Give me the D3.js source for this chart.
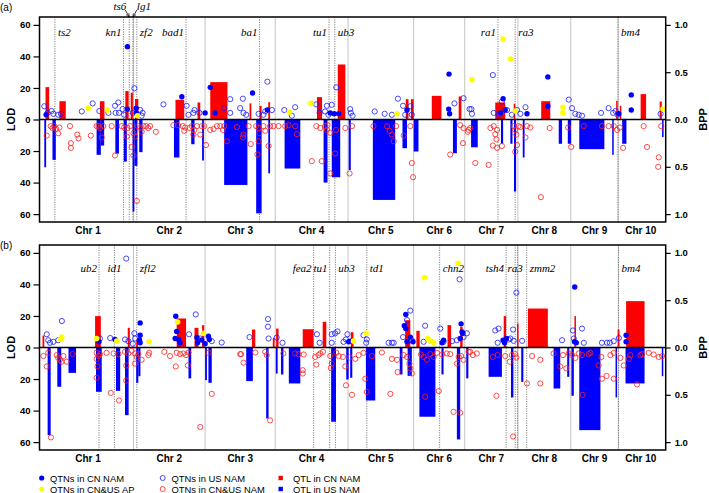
<!DOCTYPE html>
<html>
  <head>
    <meta charset="utf-8">
    <script src="https://d3js.org/d3.v7.min.js"></script>
    <style>
      body { margin: 0; background: #fff; }
      svg { display: block; }
      text { font-family: Arial, 'Liberation Sans', sans-serif; }
      .tick text { font-weight: bold; font-size: 9.5px; }
      .chr_label { font-weight: bold; font-size: 10px; }
      .axis_title { font-weight: bold; font-size: 11px; }
      .gene_label { font-family: 'Liberation Serif', 'DejaVu Serif', serif; font-style: italic; font-size: 11px; }
      .legend text { font-size: 9.4px; }
    </style>
    <title>QTNs and QTL in CN and US NAM</title>
  </head>
  <body>
    <svg></svg>

    <script type="text/javascript">
      // chromosome lengths (Mb), positions below are Mb along the concatenated genome
      const chrLengths = [301, 237, 232, 241, 217, 169, 176, 175, 157, 149]
      const chrNames = chrLengths.map((d, i) => 'Chr ' + (i + 1))
      const lodTicks = [-60, -40, -20, 0, 20, 40, 60]
      const bppTicks = [-1, -0.5, 0, 0.5, 1]

      // ---- panel (a) ----
      // QTL bars: [start, end, LOD]
      const redBarsA = [
        [10, 22, 20.5], [56, 77, 11.6], [190, 205, 11.6], [274, 285, 18], [292, 299, 17],
        [306, 317, 13], [440, 469, 12.5], [513, 522, 10.8], [555, 612, 23.7], [685, 691, 10.2],
        [718, 725, 8.7], [747, 753, 11], [908, 925, 14.2], [977, 1002, 34.9], [1202, 1211, 12.9],
        [1219, 1228, 12.9], [1288, 1320, 15], [1377, 1386, 14.6], [1498, 1531, 10.8], [1559, 1564, 10],
        [1650, 1680, 11.6], [1898, 1903, 11.9], [1910, 1915, 8.7], [1979, 1997, 16.1], [2042, 2049, 11.4]
      ]
      const blueBarsA = [
        [6, 12, 30.3], [33, 44, 25.6], [179, 193, 22.4], [193, 204, 16.5], [241, 253, 21.6],
        [269, 279, 26.7], [298, 304, 58.4], [304, 314, 29.4], [320, 331, 20.7], [435, 453, 24.1],
        [492, 503, 15.7], [528, 534, 26], [601, 678, 41.5], [707, 725, 59.5], [747, 753, 34.1],
        [801, 853, 31.1], [930, 943, 40], [957, 985, 36.6], [1013, 1020, 32], [1093, 1167, 51],
        [1191, 1206, 18.2], [1228, 1244, 20.3], [1358, 1371, 21.4], [1418, 1440, 17.6], [1517, 1524, 15.4],
        [1548, 1555, 15.4], [1560, 1567, 45.7], [1589, 1595, 24.1], [1708, 1719, 15.4], [1738, 1749, 15.4],
        [1776, 1859, 18.8], [1885, 1890, 22.4], [1918, 1932, 15.4], [2050, 2055, 11.2]
      ]
      // QTNs: [position, BPP]
      const cnQtnA = [
        [12, .05], [281, .77], [281, .11], [310, .12], [310, .07], [461, .24], [538, .07], [555, .34], [571, .07],
        [695, .28], [744, .10], [952, .07], [965, .06], [980, .06], [1206, .10], [1345, .48], [1344, .11], [1347, .06],
        [1524, .22], [1531, .10], [1515, .07], [1603, .06], [1672, .45], [1672, .14], [1907, .06], [1948, .26], [1948, .10]
      ]
      const apQtnA = [
        [152, .12], [215, .10], [314, .04], [817, .08], [888, .17], [1173, .06], [1421, .42],
        [1524, .85], [1548, .64], [1564, .09], [1722, .13], [1722, .07], [2053, .11]
      ]
      const usQtnA = [
        [6, .14], [17, .07], [30, .09], [36, .06], [52, .05], [61, .06], [130, .085], [166, .17], [188, .09], [218, .07],
        [240, .145], [251, .18], [242, .07], [253, .07], [265, .11], [270, .05], [304, .33], [299, .07], [323, .10], [331, .07],
        [328, .04], [400, .16], [477, .145], [483, .05], [503, .10], [499, .07], [519, .07], [601, .12], [621, .07], [621, .215],
        [663, .22], [654, .12], [665, .07], [674, .05], [715, .06], [731, .05], [737, .085], [744, .40], [759, .10], [800, .10],
        [825, .04], [836, .13], [906, .16], [917, .07], [935, .085], [941, .145], [946, .05], [957, .155], [972, .34], [1018, .11],
        [1020, .07], [1026, .04], [1099, .085], [1132, .06], [1156, .05], [1176, .22], [1193, .145], [1200, .05], [1217, .14], [1222, .05],
        [1363, .17], [1393, .225], [1413, .11], [1419, .11], [1421, .06], [1490, .47], [1493, .07], [1509, .05], [1520, .19], [1537, .10],
        [1553, .05], [1570, .10], [1581, .06], [1598, .13], [1741, .21], [1752, .12], [1763, .06], [1774, .05], [1785, .04], [1848, .07],
        [1873, .12], [1888, .07], [1896, .09], [1903, .05], [2045, .06]
      ]
      const bothQtnA = [
        [14, .17], [27, .07], [33, .09], [39, .07], [45, .10], [52, .145], [56, .085], [91, .07], [94, .25], [94, .30],
        [115, .16], [119, .20], [160, .17], [179, .07], [185, .07], [190, .09], [201, .07], [196, .19], [229, .07], [240, .38],
        [262, .07], [270, .085], [279, .18], [281, .09], [290, .07], [295, .29], [301, .38], [306, .18], [301, .145], [312, .86],
        [315, .07], [323, .09], [328, .13], [334, .07], [343, .07], [350, .09], [356, .07], [375, .13], [433, .06], [448, .06],
        [464, .07], [469, .12], [472, .085], [486, .09], [494, .07], [499, .16], [502, .11], [511, .07], [522, .16], [527, .07],
        [535, .07], [541, .27], [555, .11], [566, .10], [577, .07], [588, .07], [597, .11], [601, .07], [610, .23],
        [643, .08], [665, .16], [663, .19], [682, .07], [689, .26], [707, .07], [711, .37], [715, .09], [718, .145], [715, .23],
        [731, .07], [737, .12], [748, .28], [753, .07], [764, .07], [781, .07], [803, .07], [814, .06], [836, .07], [842, .155],
        [891, .44], [906, .07], [919, .09], [924, .44], [935, .07], [941, .11], [943, .06], [952, .57], [952, .14], [968, .36],
        [971, .11], [1002, .09], [1016, .57], [1024, .07], [1095, .07], [1140, .07], [1148, .12], [1156, .16], [1162, .23], [1170, .07],
        [1195, .17], [1217, .07], [1222, .46], [1226, .61], [1349, .37], [1382, .06], [1393, .09], [1407, .13],
        [1410, .11], [1391, .25], [1415, .09], [1432, .46], [1476, .48], [1482, .09], [1493, .07], [1490, .275], [1498, .155], [1502, .21],
        [1504, .30], [1520, .28], [1504, .11], [1559, .07], [1564, .11], [1568, .16], [1564, .34], [1570, .27], [1575, .07], [1581, .08],
        [1598, .19], [1603, .07], [1614, .085], [1649, .82], [1678, .09], [1739, .085], [1749, .29], [1791, .07], [1851, .07], [1873, .07],
        [1890, .07], [1901, .11], [1910, .085], [1921, .30], [1989, .07], [2000, .29], [2039, .40], [2037, .50], [2047, .07]
      ]
      const genesA = [
        {name: 'ts2', pos: 41, anchor: 'start'},
        {name: 'kn1', pos: 268, anchor: 'end'},
        {name: 'ts6', pos: 287, anchor: 'end', top: true},
        {name: 'lg1', pos: 299, anchor: 'start', top: true},
        {name: 'zf2', pos: 312, anchor: 'start'},
        {name: 'bad1', pos: 475, anchor: 'end'},
        {name: 'ba1', pos: 718, anchor: 'end'},
        {name: 'tu1', pos: 948, anchor: 'end'},
        {name: 'ub3', pos: 967, anchor: 'start'},
        {name: 'ra1', pos: 1507, anchor: 'end'},
        {name: 'ra3', pos: 1564, anchor: 'start'},
        {name: 'bm4', pos: 1904, anchor: 'start'}
      ]

      // ---- panel (b) ----
      const redBarsB = [
        [0, 6, 7.6], [174, 193, 19.9], [282, 289, 12.5], [310, 316, 4.6], [444, 475, 18.4], [503, 516, 12.5], [528, 535, 14.2],
        [693, 704, 11.4], [762, 768, 6.1], [773, 781, 12], [861, 897, 11.6], [927, 939, 16.3], [1020, 1029, 9.7], [1200, 1217, 17.3],
        [1237, 1248, 10.6], [1340, 1352, 14.2], [1382, 1390, 13.1], [1526, 1534, 19.9], [1570, 1575, 15.2], [1606, 1672, 24.7],
        [1760, 1765, 19.9], [1903, 1909, 11.4], [1931, 1992, 29.4]
      ]
      const blueBarsB = [
        [17, 27, 55.6], [49, 62, 24.9], [86, 111, 16.1], [177, 196, 28.1], [243, 257, 27.5], [273, 285, 42.9], [310, 317, 22.4],
        [317, 324, 18.2], [483, 492, 19.6], [538, 544, 20.7], [549, 560, 22.4], [674, 696, 21.3], [740, 748, 45], [772, 778, 16.5],
        [789, 797, 17.1], [815, 853, 22.8], [955, 971, 47.1], [1005, 1013, 20.3], [1018, 1025, 19.2], [1070, 1101, 33.6],
        [1182, 1191, 17.1], [1208, 1222, 18], [1247, 1300, 43.9], [1320, 1327, 17.1], [1371, 1382, 58.3], [1402, 1409, 19.6],
        [1476, 1520, 18.6], [1550, 1558, 31.7], [1584, 1591, 21.8], [1691, 1713, 26], [1736, 1743, 18.6], [1750, 1758, 30.6],
        [1776, 1846, 52.4], [1896, 1901, 31.7], [1929, 1992, 22.8], [2049, 2054, 18.2]
      ]
      const cnQtnB = [
        [187, .06], [240, .085], [323, .26], [323, .13], [321, .08], [323, .05], [441, .33], [444, .17], [439, .095], [450, .085],
        [455, .05], [511, .105], [513, .05], [527, .08], [538, .04], [549, .12], [552, .085], [1013, .06], [1018, .067], [1197, .23],
        [1202, .35], [1202, .20], [1206, .06], [1217, .11], [1226, .06], [1322, .05], [1327, .077], [1382, .095], [1385, .25], [1388, .165],
        [1391, .15], [1524, .077], [1529, .05], [1535, .095], [1760, .06], [1761, .64], [1766, .05], [1931, .13], [1931, .06]
      ]
      const apQtnB = [
        [60, .088], [64, .11], [179, .095], [246, .067], [353, .06], [447, .27], [533, .15], [1029, .067], [1071, .15], [1264, .74],
        [1275, .095], [1285, .067], [1294, .05], [1375, .89]
      ]
      const usQtnB = [
        [14, .14], [19, .077], [25, .05], [36, .06], [52, .077], [64, .28], [190, .095], [224, .10], [273, .085], [277, .94],
        [284, .067], [299, .04], [304, .15], [306, .095], [485, .14], [507, .35], [522, .095], [560, .067], [593, .053], [685, .11],
        [746, .30], [746, .22], [748, .095], [775, .105], [794, .05], [908, .14], [917, .05], [957, .14], [957, .05], [968, .15],
        [976, .17], [996, .06], [1004, .085], [1009, .14], [1062, .13], [1073, .085], [1071, .05], [1145, .05], [1156, .05], [1162, .05],
        [1193, .11], [1206, .29], [1217, .39], [1222, .077], [1261, .06], [1266, .23], [1316, .20], [1327, .06], [1355, .067], [1371, .077],
        [1380, .72], [1393, .11], [1404, .15], [1498, .18], [1506, .05], [1509, .20], [1542, .085], [1548, .095], [1557, .19], [1559, .07],
        [1568, .58], [1587, .07], [1719, .077], [1755, .18], [1758, .095], [1785, .20], [1791, .05], [1851, .05], [1868, .05], [1877, .05],
        [1890, .067], [1907, .10]
      ]
      const bothQtnB = [
        [3, .09], [14, .20], [19, .056], [28, .95], [47, .08], [52, .11], [58, .13], [63, .15], [69, .09], [80, .15],
        [100, .07], [179, .056], [179, .12], [182, .20], [179, .32], [185, .09], [190, .07], [212, .056], [226, .48], [235, .063],
        [251, .07], [253, .56], [273, .046], [277, .19], [277, .35], [284, .063], [295, .035], [306, .063], [306, .17], [312, .10],
        [317, .07], [328, .13], [350, .08], [353, .056], [403, .046], [422, .09], [441, .20], [444, .056], [455, .07], [466, .063],
        [475, .08], [483, .053], [481, .19], [522, .84], [549, .056], [560, .49], [654, .07],
        [657, .07], [665, .16], [704, .053], [737, .046], [742, .08], [753, .77], [797, .063], [836, .063], [847, .07], [861, .24],
        [861, .275], [864, .074], [902, .10], [906, .18], [913, .08], [919, .063], [928, .046], [952, .09], [954, .215], [957, .17],
        [972, .056], [980, .09], [994, .10], [1002, .20], [1004, .40], [1016, .105], [1024, .50], [1035, .12], [1046, .08], [1062, .056],
        [1068, .33], [1073, .47], [1090, .09], [1123, .053], [1151, .49], [1156, .12], [1173, .13], [1175, .26], [1195, .08], [1206, .10],
        [1214, .17], [1217, .22], [1222, .275], [1252, .074], [1261, .10], [1266, .52], [1272, .13], [1283, .07], [1294, .10], [1305, .056],
        [1311, .46], [1322, .074], [1338, .063], [1349, .07], [1360, .68], [1371, .17], [1377, .10], [1382, .69], [1385, .09], [1410, .046],
        [1393, .13], [1415, .046], [1424, .08], [1437, .063], [1490, .10], [1502, .51], [1506, .08], [1531, .09], [1546, .15], [1553, .08],
        [1557, .94], [1564, .07], [1568, .105], [1603, .38], [1620, .09], [1647, .13], [1647, .38], [1691, .063], [1713, .20], [1722, .08],
        [1733, .22], [1741, .063], [1752, .08], [1763, .11], [1774, .063], [1785, .08], [1787, .50], [1807, .07], [1813, .056], [1840, .19],
        [1849, .10], [1851, .33], [1866, .30], [1879, .08], [1890, .33], [1890, .056], [1912, .11], [1923, .19], [1940, .12], [1945, .08],
        [1967, .39], [1978, .08], [1984, .07], [2006, .056], [2022, .074], [2039, .10], [2050, .09]
      ]
      const genesB = [
        {name: 'ub2', pos: 187, anchor: 'end'},
        {name: 'id1', pos: 238, anchor: 'middle'},
        {name: 'zfl2', pos: 312, anchor: 'start'},
        {name: 'fea2', pos: 897, anchor: 'end'},
        {name: 'tu1', pos: 950, anchor: 'end'},
        {name: 'ub3', pos: 969, anchor: 'start'},
        {name: 'td1', pos: 1073, anchor: 'start'},
        {name: 'chn2', pos: 1314, anchor: 'start'},
        {name: 'tsh4', pos: 1534, anchor: 'end'},
        {name: 'ra3', pos: 1564, anchor: 'middle'},
        {name: '', pos: 1572, anchor: 'start'},
        {name: 'zmm2', pos: 1602, anchor: 'start'},
        {name: 'bm4', pos: 1906, anchor: 'start'}
      ]

      const legendItems = [
        {label: 'QTNs in CN NAM', type: 'cn'},
        {label: 'QTNs in CN&US AP', type: 'ap'},
        {label: 'QTNs in US NAM', type: 'us'},
        {label: 'QTNs in CN&US NAM', type: 'both'},
        {label: 'QTL in CN NAM', type: 'redBar'},
        {label: 'QTL in US NAM', type: 'blueBar'}
      ]

      const width = 709
      const height = 493
      const boxLeft = 39.5
      const boxRight = 665.7

      const svg =
        d3.select('svg')
          .attr('width', width)
          .attr('height', height)

      svg.append('defs')
        .append('marker')
          .attr('id', 'arrow')
          .attr('viewBox', '0 0 10 10')
          .attr('refX', 9)
          .attr('refY', 5)
          .attr('markerWidth', 5)
          .attr('markerHeight', 5)
          .attr('orient', 'auto')
        .append('path')
          .attr('d', 'M0,1L9,5L0,9')
          .attr('fill', 'none')
          .attr('stroke', '#000')
          .attr('stroke-width', 1.5)

      const chrStarts = Array.from(d3.cumsum([0].concat(chrLengths)))

      const x =
        d3.scaleLinear()
          .domain([0, d3.sum(chrLengths)])
          .range([42.5, 663.3])

      const labelOffset = {start: 3, end: -2, middle: 0}

      function drawPanel(p) {
        const yLod = d3.scaleLinear().domain([-65, 65]).range([p.bottom, p.top])
        const yBpp = d3.scaleLinear().domain([-65 / 60, 65 / 60]).range([p.bottom, p.top])
        const g = svg.append('g')

        // chromosome boundaries
        g.selectAll('.chr_line')
          .data(chrStarts.slice(1, -1))
          .enter()
          .append('line')
            .attr('x1', d => x(d))
            .attr('x2', d => x(d))
            .attr('y1', p.top)
            .attr('y2', p.bottom)
            .attr('stroke', '#c4c4c4')
            .attr('stroke-width', 1)

        // candidate genes
        g.selectAll('.gene_line')
          .data(p.genes)
          .enter()
          .append('line')
            .attr('x1', d => x(d.pos))
            .attr('x2', d => x(d.pos))
            .attr('y1', p.top)
            .attr('y2', p.bottom)
            .attr('stroke', '#666')
            .attr('stroke-width', 0.8)
            .attr('stroke-dasharray', '1.2,1.2')

        g.selectAll('.gene_label')
          .data(p.genes.filter(d => !d.top))
          .enter()
          .append('text')
            .attr('class', 'gene_label')
            .attr('x', d => x(d.pos) + labelOffset[d.anchor])
            .attr('y', p.geneY)
            .attr('text-anchor', d => d.anchor)
            .text(d => d.name)

        const topGenes = p.genes.filter(d => d.top)
        g.selectAll('.gene_top')
          .data(topGenes)
          .enter()
          .append('text')
            .attr('class', 'gene_label')
            .attr('x', d => x(d.pos) + (d.anchor === 'start' ? 4 : -3))
            .attr('y', p.top - 7)
            .attr('text-anchor', d => d.anchor)
            .text(d => d.name)

        g.selectAll('.gene_arrow')
          .data(topGenes)
          .enter()
          .append('line')
            .attr('x1', d => x(d.pos) + (d.anchor === 'start' ? 4 : -4))
            .attr('x2', d => x(d.pos))
            .attr('y1', p.top - 7)
            .attr('y2', p.top)
            .attr('stroke', '#000')
            .attr('stroke-width', 0.8)
            .attr('marker-end', 'url(#arrow)')

        // QTL bars
        g.selectAll('.red_bar')
          .data(p.redBars)
          .enter()
          .append('rect')
            .attr('x', d => x(d[0]))
            .attr('width', d => Math.max(1.5, x(d[1]) - x(d[0])))
            .attr('y', d => yLod(d[2]))
            .attr('height', d => yLod(0) - yLod(d[2]))
            .attr('fill', '#ff0000')

        g.selectAll('.blue_bar')
          .data(p.blueBars)
          .enter()
          .append('rect')
            .attr('x', d => x(d[0]))
            .attr('width', d => Math.max(1.5, x(d[1]) - x(d[0])))
            .attr('y', yLod(0))
            .attr('height', d => yLod(-d[2]) - yLod(0))
            .attr('fill', '#0000ff')

        // zero line
        g.append('line')
          .attr('x1', boxLeft)
          .attr('x2', boxRight)
          .attr('y1', yLod(0))
          .attr('y2', yLod(0))
          .attr('stroke', '#000')
          .attr('stroke-width', 1.3)

        // QTNs
        g.selectAll('.both_qtn')
          .data(p.both)
          .enter()
          .append('circle')
            .attr('cx', d => x(d[0]))
            .attr('cy', d => yBpp(-d[1]))
            .attr('r', 2.6)
            .attr('fill', 'none')
            .attr('stroke', '#ff2020')
            .attr('stroke-width', 0.8)

        g.selectAll('.us_qtn')
          .data(p.us)
          .enter()
          .append('circle')
            .attr('cx', d => x(d[0]))
            .attr('cy', d => yBpp(d[1]))
            .attr('r', 2.6)
            .attr('fill', 'none')
            .attr('stroke', '#1a1aff')
            .attr('stroke-width', 0.8)

        g.selectAll('.cn_qtn')
          .data(p.cn)
          .enter()
          .append('circle')
            .attr('cx', d => x(d[0]))
            .attr('cy', d => yBpp(d[1]))
            .attr('r', 2.7)
            .attr('fill', '#0000ff')

        g.selectAll('.ap_qtn')
          .data(p.ap)
          .enter()
          .append('circle')
            .attr('cx', d => x(d[0]))
            .attr('cy', d => yBpp(d[1]))
            .attr('r', 2.8)
            .attr('fill', '#ffff00')

        // frame
        g.append('rect')
          .attr('x', boxLeft)
          .attr('y', p.top)
          .attr('width', boxRight - boxLeft)
          .attr('height', p.bottom - p.top)
          .attr('fill', 'none')
          .attr('stroke', '#000')
          .attr('stroke-width', 1.5)

        // axes
        const left =
          g.append('g')
            .attr('transform', `translate(${boxLeft},0)`)
            .call(
              d3.axisLeft(yLod)
                .tickValues(lodTicks)
                .tickFormat(d => Math.abs(d))
                .tickSize(6)
                .tickPadding(3)
            )
        left.select('.domain').remove()
        left.selectAll('.tick text').attr('font-family', null)

        const right =
          g.append('g')
            .attr('transform', `translate(${boxRight},0)`)
            .call(
              d3.axisRight(yBpp)
                .tickValues(bppTicks)
                .tickFormat(d => d3.format('.1f')(Math.abs(d)))
                .tickSize(5)
                .tickPadding(4)
            )
        right.select('.domain').remove()
        right.selectAll('.tick text').attr('font-family', null)

        g.selectAll('.tick line').attr('stroke-width', 1.2)

        g.append('text')
          .attr('class', 'axis_title')
          .attr('transform', `translate(15,${yLod(0)}) rotate(-90)`)
          .attr('text-anchor', 'middle')
          .text('LOD')

        g.append('text')
          .attr('class', 'axis_title')
          .attr('transform', `translate(707,${yLod(0)}) rotate(-90)`)
          .attr('text-anchor', 'middle')
          .text('BPP')

        // chromosome names
        g.selectAll('.chr_label')
          .data(chrNames)
          .enter()
          .append('text')
            .attr('class', 'chr_label')
            .attr('x', (d, i) => x((chrStarts[i] + chrStarts[i + 1]) / 2))
            .attr('y', p.bottom + 11.5)
            .attr('text-anchor', 'middle')
            .text(d => d)

        g.append('text')
          .attr('x', 0)
          .attr('y', p.tagY)
          .attr('font-size', 10)
          .text(p.tag)
      }

      drawPanel({
        tag: '(a)', tagY: 11, top: 17, bottom: 222, geneY: 36,
        redBars: redBarsA, blueBars: blueBarsA,
        cn: cnQtnA, ap: apQtnA, us: usQtnA, both: bothQtnA, genes: genesA
      })

      drawPanel({
        tag: '(b)', tagY: 249, top: 245, bottom: 450, geneY: 271.5,
        redBars: redBarsB, blueBars: blueBarsB,
        cn: cnQtnB, ap: apQtnB, us: usQtnB, both: bothQtnB, genes: genesB
      })

      // legend
      const legend =
        svg.append('g')
          .attr('class', 'legend')

      const legendX = [41.7, 162.7, 280.7]
      const legendTextX = [50, 171.5, 293]
      const legendY = [478, 489]

      const item =
        legend.selectAll('.item')
          .data(legendItems)
          .enter()
          .append('g')
            .attr('transform', (d, i) =>
              `translate(${legendX[Math.floor(i / 2)]},${legendY[i % 2]})`
            )

      item.filter(d => d.type === 'cn' || d.type === 'ap')
        .append('circle')
          .attr('r', 2.6)
          .attr('fill', d => d.type === 'cn' ? '#0000ff' : '#ffff00')

      item.filter(d => d.type === 'us' || d.type === 'both')
        .append('circle')
          .attr('r', 2.5)
          .attr('fill', 'none')
          .attr('stroke', d => d.type === 'us' ? '#1a1aff' : '#ff2020')
          .attr('stroke-width', 0.8)

      item.filter(d => d.type === 'redBar' || d.type === 'blueBar')
        .append('rect')
          .attr('x', -2.2)
          .attr('y', -2.2)
          .attr('width', 4.4)
          .attr('height', 4.4)
          .attr('fill', d => d.type === 'redBar' ? '#ff0000' : '#0000ff')

      item.append('text')
        .attr('x', (d, i) => legendTextX[Math.floor(i / 2)] - legendX[Math.floor(i / 2)])
        .attr('y', 3.5)
        .text(d => d.label)
    </script>
  </body>
</html>
